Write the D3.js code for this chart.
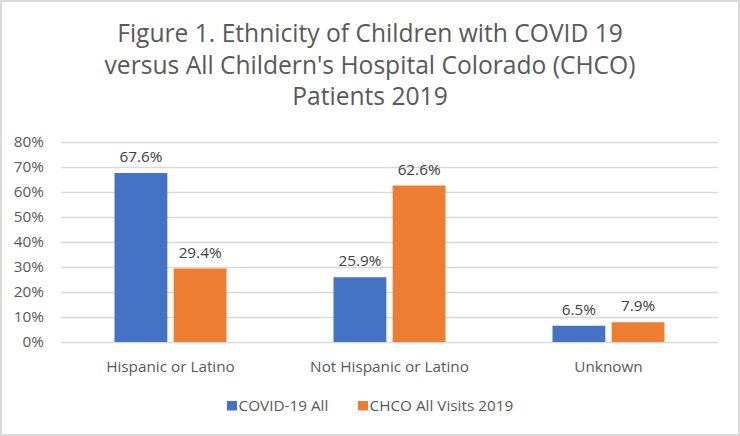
<!DOCTYPE html>
<html>
<head>
<meta charset="utf-8">
<script src="https://cdn.jsdelivr.net/npm/d3@7"></script>
<style>
    body { margin: 0; background: #fff; }
    svg { display: block; }
</style>
</head>
<body>
<svg id="chart" width="740" height="436"></svg>
<script>
// Chart data
const categories = ["Hispanic or Latino", "Not Hispanic or Latino", "Unknown"];
const seriesNames = ["COVID-19 All", "CHCO All Visits 2019"];
const covidAll = [67.6, 25.9, 6.5];
const chcoVisits = [29.4, 62.6, 7.9];
const yTicks = [0, 10, 20, 30, 40, 50, 60, 70, 80];
const titleLines = [
    "Figure 1. Ethnicity of Children with COVID 19",
    "versus All Childern's Hospital Colorado (CHCO)",
    "Patients 2019"
];

const colors = ["#4472c4", "#ed7d31"];
const textColor = "#595959";
const fontFam = "'Open Sans', sans-serif";
const labelSize = "15.3px";

const svg = d3.select("#chart");

// Outer chart border
svg.append("rect")
    .attr("x", 1).attr("y", 1)
    .attr("width", 738).attr("height", 434)
    .attr("fill", "#fff")
    .attr("stroke", "#d9d9d9")
    .attr("stroke-width", 2);

// Title
const titleGroup = svg.append("g");
titleGroup.selectAll("text")
    .data(titleLines)
    .enter()
    .append("text")
    .attr("x", 370)
    .attr("y", (d, i) => 42 + i * 31.5)
    .attr("text-anchor", "middle")
    .attr("font-family", fontFam)
    .attr("font-size", "24.6px")
    .attr("fill", textColor)
    .text(d => d);

// Scales
const x0 = d3.scaleBand()
    .domain(categories)
    .range([61, 718]);
const x1 = d3.scaleBand()
    .domain(seriesNames)
    .range([0, 112])
    .paddingInner(0.107);
const y = d3.scaleLinear()
    .domain([0, 80])
    .range([342, 142]);

// Gridlines
const gridGroup = svg.append("g");
gridGroup.selectAll("line")
    .data(yTicks)
    .enter()
    .append("line")
    .attr("x1", 61)
    .attr("x2", 718)
    .attr("y1", d => Math.round(y(d)) + 0.5)
    .attr("y2", d => Math.round(y(d)) + 0.5)
    .attr("stroke", "#d9d9d9")
    .attr("stroke-width", 1.5);

// Y axis labels
const yAxis = svg.append("g")
    .attr("transform", "translate(61,0)")
    .call(d3.axisLeft(y).tickValues(yTicks).tickFormat(d => d + "%").tickSize(0).tickPadding(17));
yAxis.select(".domain").remove();
yAxis.selectAll("text")
    .attr("font-family", fontFam)
    .attr("font-size", labelSize)
    .attr("fill", textColor);

// Category labels
const xAxis = svg.append("g")
    .attr("transform", "translate(0,342)")
    .call(d3.axisBottom(x0).tickSize(0).tickPadding(19));
xAxis.select(".domain").remove();
xAxis.selectAll("text")
    .attr("font-family", fontFam)
    .attr("font-size", labelSize)
    .attr("fill", textColor);

// Bars
const rows = categories.map((c, i) => ({
    cat: c,
    vals: [
        { series: seriesNames[0], value: covidAll[i] },
        { series: seriesNames[1], value: chcoVisits[i] }
    ]
}));

const groups = svg.append("g")
    .selectAll("g")
    .data(rows)
    .enter()
    .append("g")
    .attr("transform", d => `translate(${x0(d.cat) + (x0.bandwidth() - 112) / 2},0)`);

groups.selectAll("rect")
    .data(d => d.vals)
    .enter()
    .append("rect")
    .attr("x", d => x1(d.series))
    .attr("y", d => y(d.value))
    .attr("width", x1.bandwidth())
    .attr("height", d => y(0) - y(d.value))
    .attr("fill", (d, i) => colors[i]);

// Data labels
groups.selectAll("text")
    .data(d => d.vals)
    .enter()
    .append("text")
    .attr("x", d => x1(d.series) + x1.bandwidth() / 2)
    .attr("y", d => y(d.value) - 11)
    .attr("text-anchor", "middle")
    .attr("font-family", fontFam)
    .attr("font-size", labelSize)
    .attr("fill", "#404040")
    .text(d => d.value.toFixed(1) + "%");

// Legend
const legendX = [227, 358];
const legend = svg.append("g")
    .selectAll("g")
    .data(seriesNames)
    .enter()
    .append("g")
    .attr("transform", (d, i) => `translate(${legendX[i]},401)`);
legend.append("rect")
    .attr("width", 10)
    .attr("height", 9.5)
    .attr("fill", (d, i) => colors[i]);
legend.append("text")
    .attr("x", 11.5)
    .attr("y", 10)
    .attr("font-family", fontFam)
    .attr("font-size", labelSize)
    .attr("fill", textColor)
    .text(d => d);
</script>
</body>
</html>
